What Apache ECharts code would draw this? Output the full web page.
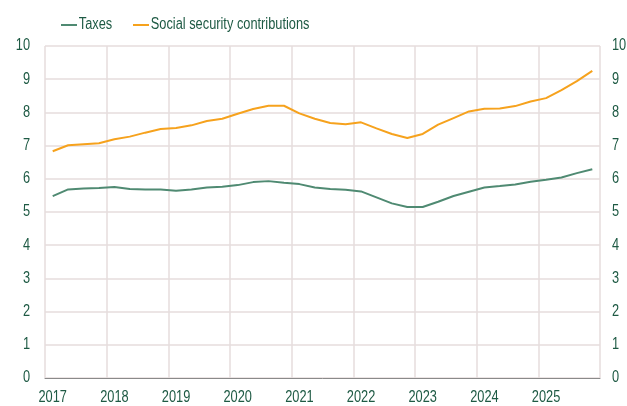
<!DOCTYPE html>
<html>
<head>
<meta charset="utf-8">
<script src="https://cdn.jsdelivr.net/npm/echarts@6/dist/echarts.min.js"></script>
<style>
  html, body { margin: 0; padding: 0; background: #fff; }
  #chart { width: 627px; height: 406px; }
</style>
</head>
<body>
<div id="chart"></div>
<script>
// Quarterly observations, 2017 Q1 – 2025 Q4
const years = ['2017', '2018', '2019', '2020', '2021', '2022', '2023', '2024', '2025'];
const quarters = years.flatMap(y => [y + ' Q1', y + ' Q2', y + ' Q3', y + ' Q4']);

const taxes = [
  5.48, 5.68, 5.71, 5.72,
  5.75, 5.69, 5.68, 5.68,
  5.64, 5.68, 5.74, 5.76,
  5.81, 5.90, 5.93, 5.88,
  5.84, 5.74, 5.69, 5.67,
  5.62, 5.44, 5.26, 5.15,
  5.15, 5.31, 5.48, 5.61,
  5.74, 5.78, 5.83, 5.91,
  5.97, 6.04, 6.17, 6.29
];

const socialSecurity = [
  6.83, 7.01, 7.04, 7.07,
  7.19, 7.27, 7.39, 7.50,
  7.53, 7.61, 7.74, 7.81,
  7.96, 8.10, 8.20, 8.20,
  7.97, 7.81, 7.68, 7.64,
  7.70, 7.52, 7.35, 7.23,
  7.35, 7.63, 7.83, 8.03,
  8.11, 8.12, 8.19, 8.33,
  8.43, 8.67, 8.94, 9.25
];

const yTicks = [0, 1, 2, 3, 4, 5, 6, 7, 8, 9, 10];

const textColor = '#1e5a44';
const gridColor = '#e6dddd';
const font = '"Liberation Sans", Arial, sans-serif';
// Horizontal squeeze applied to all text, giving a narrow typeface look
const CONDENSE = 0.8;

const chart = echarts.init(document.getElementById('chart'), null, { renderer: 'canvas' });

const valueAxis = (position, margin) => ({
  type: 'value',
  position: position,
  min: yTicks[0],
  max: yTicks[yTicks.length - 1],
  interval: 1,
  axisLine: { show: false },
  axisTick: { show: false },
  axisLabel: {
    color: textColor,
    fontFamily: font,
    fontSize: 16,
    margin: margin
  },
  splitLine: {
    show: position === 'left',
    lineStyle: { color: gridColor, width: 1.5 }
  }
});

const legendBase = {
  top: 12,
  itemWidth: 16,
  itemHeight: 2,
  textStyle: { color: textColor, fontFamily: font, fontSize: 16, padding: [0, 0, 0, -4] }
};

chart.setOption({
  animation: false,
  backgroundColor: '#ffffff',
  textStyle: { fontFamily: font },
  legend: [
    Object.assign({ left: 55, data: ['Taxes'] }, legendBase),
    Object.assign({ left: 127, data: ['Social security contributions'] }, legendBase)
  ],
  grid: {
    left: 45, right: 27, top: 46, bottom: 28,
    containLabel: false,
    outerBoundsMode: 'none'
  },
  xAxis: {
    type: 'category',
    data: quarters,
    boundaryGap: true,
    axisLine: { show: true, lineStyle: { color: '#8a8a8a', width: 1 } },
    axisTick: { show: false },
    axisLabel: {
      interval: 3,
      color: textColor,
      fontFamily: font,
      fontSize: 16,
      margin: 12,
      formatter: v => v.slice(0, 4)
    },
    splitLine: {
      show: true,
      interval: 3,
      lineStyle: { color: gridColor, width: 1.5 }
    }
  },
  yAxis: [valueAxis('left', 15), valueAxis('right', 12)],
  series: [
    {
      name: 'Taxes',
      type: 'line',
      data: taxes,
      symbol: 'none',
      lineStyle: { color: '#4f8a72', width: 2 },
      itemStyle: { color: '#4f8a72' }
    },
    {
      name: 'Social security contributions',
      type: 'line',
      data: socialSecurity,
      symbol: 'none',
      lineStyle: { color: '#f6a21d', width: 2 },
      itemStyle: { color: '#f6a21d' }
    }
  ]
});

// Narrow every text element horizontally around its own anchor point
function condenseTexts() {
  try {
    const zr = chart.getZr();
    zr.storage.traverse(function (el) {
      if (el.type === 'text' && !el.__condensed) {
        const st = el.style || {};
        el.originX = st.x || 0;
        el.originY = st.y || 0;
        el.scaleX = (el.scaleX || 1) * CONDENSE;
        el.__condensed = true;
        el.markRedraw();
      }
    });
    zr.refreshImmediately();
  } catch (e) {
    console.error(e);
  }
}
condenseTexts();
</script>
</body>
</html>
